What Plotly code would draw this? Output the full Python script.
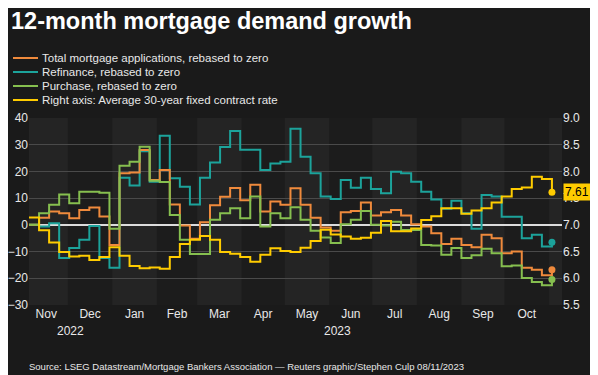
import pandas as pd
import plotly.graph_objects as go

# ---------------- data ----------------
title_text = "12-month mortgage demand growth"
source_text = ("Source: LSEG Datastream/Mortgage Bankers Association \u2014 "
               "Reuters graphic/Stephen Culp 08/11/2023")
series_names = [
    "Total mortgage applications, rebased to zero",
    "Refinance, rebased to zero",
    "Purchase, rebased to zero",
    "Right axis: Average 30-year fixed contract rate",
]
first_week = "2022-11-04"   # weekly observations (week ending Fridays)

total = [0, 2.7, 5.0, 4.3, 2.5, 5.6, 6.5, 3.1, -7.5, 19.3, 19.6, 28.0, 16.8,
         20.5, 7.6, -0.2, -5.2, 1.0, 7.3, 10.5, 13.8, 9.2, 15.0, 5.0, 8.7,
         7.5, 13.7, 7.5, 2.7, -1.0, -2.2, 4.7, 5.2, 8.4, 3.5, 4.7, 5.6, 3.5,
         0.2, -0.6, -3.1, -7.2, -5.2, -7.5, -8.4, -3.7, -5.0, -10.6, -10.0,
         -16.1, -16.8, -18.9, -16.8]
refinance = [0, -0.6, 0.6, -12.4, -8.7, -5.6, -0.4, -12.4, -16.1, 17.6, 14.7,
             27.6, 16.1, 33.4, 17.4, 14.3, 7.6, 17.6, 23.3, 29.1, 35.1, 28.1,
             28.1, 20.5, 23.0, 23.6, 36.0, 25.5, 19.3, 10.6, 9.7, 16.8, 13.9,
             17.6, 13.4, 11.8, 19.9, 19.3, 16.1, 12.4, 9.5, 6.0, 9.0, 4.3,
             -1.5, 11.2, 10.6, 3.0, 3.0, -5.0, -3.7, -8.1, -6.5]
purchase = [0, 4.3, 7.5, 11.4, 8.1, 12.4, 12.4, 12.0, -1.5, 22.1, 23.6, 29.2,
            16.5, 16.0, 3.7, -5.6, -10.9, -10.9, 1.9, 4.3, 6.2, 2.5, 10.6,
            -0.6, 4.3, 2.5, 6.6, 1.9, -2.2, -4.7, -6.8, 0.2, 1.9, 5.2, 0.0,
            -0.2, 1.2, -1.9, -1.9, -7.5, -7.7, -11.2, -8.7, -12.4, -11.4,
            -8.9, -10.6, -15.5, -15.2, -19.9, -21.4, -22.6, -20.5]
rate = [7.14, 6.90, 6.67, 6.49, 6.41, 6.42, 6.34, 6.40, 6.58, 6.42, 6.23,
        6.19, 6.20, 6.18, 6.40, 6.64, 6.72, 6.79, 6.72, 6.49, 6.46, 6.40,
        6.31, 6.44, 6.56, 6.51, 6.49, 6.57, 6.70, 6.91, 6.82, 6.78, 6.74,
        6.76, 6.85, 7.07, 6.88, 6.88, 6.93, 7.09, 7.16, 7.31, 7.31, 7.21,
        7.27, 7.31, 7.42, 7.53, 7.67, 7.70, 7.90, 7.86, 7.61]

month_labels = ["Nov", "Dec", "Jan", "Feb", "Mar", "Apr", "May", "Jun",
                "Jul", "Aug", "Sep", "Oct"]
first_month = "2022-11-01"
year_labels = ["2022", "2023"]
left_ticks = [-30, -20, -10, 0, 10, 20, 30, 40]
right_ticks = [5.5, 6.0, 6.5, 7.0, 7.5, 8.0, 8.5, 9.0]
x_range = ["2022-11-04", "2023-11-10"]

# ---------------- style ----------------
colors = ["#ef8a3c", "#1ca39b", "#86bf4f", "#ffcc00"]
FONT = "Liberation Sans, Arial, sans-serif"
W, H = 598, 375
OFF = 8                       # page offset of the plot div (body margin)
PL, PR, PT, PB = 29, 562, 118, 305   # plot box in page pixels
PW, PH = PR - PL, PB - PT


def px2x(px):
    return (px - PL) / PW


def py2y(py):
    return (PB - py) / PH


dates = pd.date_range(first_week, periods=len(rate), freq="7D")

fig = go.Figure()

# alternating month bands
months = pd.date_range(first_month, periods=14, freq="MS")
x0r, x1r = pd.Timestamp(x_range[0]), pd.Timestamp(x_range[1])
for k in range(len(months) - 1):
    if k % 2 == 0:
        a = max(months[k], x0r)
        b = min(months[k + 1], x1r)
        if a < b:
            fig.add_shape(type="rect", xref="x", yref="paper", x0=a, x1=b,
                          y0=0, y1=1, fillcolor="#242424", line_width=0,
                          layer="below")

left_series = [total, refinance, purchase]
draw_order = [1, 0, 2]
for idx in draw_order:
    fig.add_trace(go.Scatter(x=dates, y=left_series[idx], mode="lines",
                             line=dict(color=colors[idx], width=2, shape="hv"),
                             showlegend=False, hoverinfo="skip"))
fig.add_trace(go.Scatter(x=dates, y=rate, mode="lines", yaxis="y2",
                         line=dict(color=colors[3], width=2, shape="hv"),
                         showlegend=False, hoverinfo="skip"))
# end markers
for idx in draw_order:
    fig.add_trace(go.Scatter(x=[dates[-1]], y=[left_series[idx][-1]],
                             mode="markers",
                             marker=dict(color=colors[idx], size=7),
                             showlegend=False, hoverinfo="skip"))
fig.add_trace(go.Scatter(x=[dates[-1]], y=[rate[-1]], mode="markers",
                         yaxis="y2", marker=dict(color=colors[3], size=7),
                         showlegend=False, hoverinfo="skip"))

ann = []
# title
ann.append(dict(text="<b>%s</b>" % title_text, xref="paper", yref="paper",
                x=px2x(9), y=py2y(21), xanchor="left", yanchor="middle",
                showarrow=False,
                font=dict(family=FONT, size=23.5, color="#ffffff")))
# legend
legend_rows = [58, 72, 86, 100]
for i, name in enumerate(series_names):
    fig.add_shape(type="line", xref="paper", yref="paper",
                  x0=px2x(13), x1=px2x(38), y0=py2y(legend_rows[i]),
                  y1=py2y(legend_rows[i]),
                  line=dict(color=colors[i], width=2))
    ann.append(dict(text=name, xref="paper", yref="paper", x=px2x(40),
                    y=py2y(legend_rows[i]), xanchor="left", yanchor="middle",
                    showarrow=False,
                    font=dict(family=FONT, size=11.5, color="#e8e8e8")))
# year labels (centred on visible part of each year)
year_bounds = [x0r, pd.Timestamp("2023-01-01"), x1r]
for i, yl in enumerate(year_labels):
    mid = year_bounds[i] + (year_bounds[i + 1] - year_bounds[i]) / 2
    ann.append(dict(text=yl, xref="x", yref="paper", x=mid, y=py2y(331),
                    xanchor="center", yanchor="middle", showarrow=False,
                    font=dict(family=FONT, size=12, color="#e8e8e8")))
# last value label
ann.append(dict(text="%.2f" % rate[-1], xref="paper", yref="y2",
                x=px2x(563), y=rate[-1], xanchor="left", yanchor="middle",
                showarrow=False, bgcolor=colors[3], borderpad=1,
                font=dict(family=FONT, size=12, color="#000000")))
# source
ann.append(dict(text=source_text, xref="paper", yref="paper", x=px2x(27),
                y=py2y(366), xanchor="left", yanchor="middle", showarrow=False,
                font=dict(family=FONT, size=9.5, color="#e8e8e8")))

# month tick positions at middle of each month
mid_months = [months[k] + (months[k + 1] - months[k]) / 2
              for k in range(len(month_labels))]

fig.update_layout(
    width=W, height=H,
    margin=dict(l=PL - OFF, r=W - PR + OFF, t=PT - OFF, b=H - PB + OFF, pad=0),
    paper_bgcolor="#1a1a1a", plot_bgcolor="#1c1c1c",
    annotations=ann,
    font=dict(family=FONT, size=12, color="#e0e0e0"),
    xaxis=dict(range=x_range, type="date", tickvals=mid_months,
               ticktext=month_labels, showgrid=False, zeroline=False,
               showline=False, ticks="", automargin=False,
               tickfont=dict(size=12, color="#e8e8e8")),
    yaxis=dict(range=[left_ticks[0], left_ticks[-1]], tickvals=left_ticks,
               showgrid=True, gridcolor="#4a4a4a", gridwidth=1,
               zeroline=True, zerolinecolor="#dcdcdc", zerolinewidth=1.5,
               ticks="", showline=False, automargin=False,
               tickfont=dict(size=12, color="#e8e8e8")),
    yaxis2=dict(range=[right_ticks[0], right_ticks[-1]], tickvals=right_ticks,
                tickformat=".1f", overlaying="y", side="right",
                showgrid=False, zeroline=False, ticks="", showline=False,
                automargin=False,
                tickfont=dict(size=12, color="#e8e8e8")),
    showlegend=False,
)

fig.write_html("out.html")
